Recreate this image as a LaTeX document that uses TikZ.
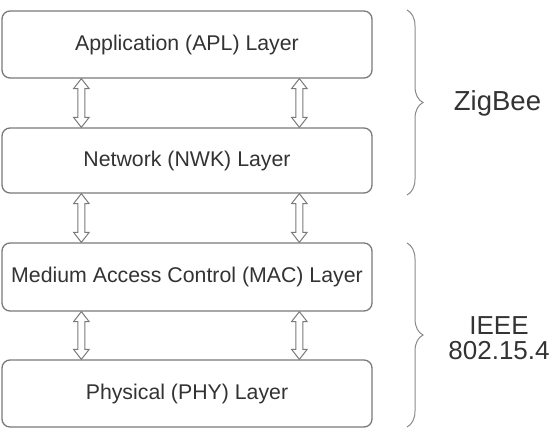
\documentclass[tikz,border=0pt]{standalone}
\usepackage{fontspec}
\setmainfont{Liberation Sans}
\usetikzlibrary{calc,decorations.pathreplacing}
\definecolor{boxline}{HTML}{7A7A7A}
\definecolor{txt}{HTML}{333333}
\definecolor{bracecol}{HTML}{8A8A8A}
\newcommand{\hollowarrow}[3]{%
  \path let \p1=($(#1.south west)+(#3,0)$), \p2=($(#2.north west)+(#3,0)$) in
    [draw=boxline, line width=1pt, fill=white, line join=miter]
    (\x1,\y1) -- (\x1+7.8pt,\y1-10pt) -- (\x1+3.6pt,\y1-10pt) -- (\x1+3.6pt,\y2+10pt)
    -- (\x1+7.8pt,\y2+10pt) -- (\x1,\y2) -- (\x1-7.8pt,\y2+10pt) -- (\x1-3.6pt,\y2+10pt)
    -- (\x1-3.6pt,\y1-10pt) -- (\x1-7.8pt,\y1-10pt) -- cycle;}
\begin{document}
\begin{tikzpicture}[x=1pt,y=1pt,
  layerbox/.style={draw=boxline, line width=1.3pt, rounded corners=8pt, fill=white,
    text=txt, minimum width=370pt, inner sep=0pt, font=\fontsize{21.3}{24}\selectfont},
  bracestyle/.style={draw=bracecol, line width=1pt, decorate,
    decoration={brace, amplitude=16pt}},
  grouplabel/.style={text=txt, align=center, font=\fontsize{26}{25.5}\selectfont, inner sep=0pt}]
\useasboundingbox (0,0) rectangle (553,437);
\node[layerbox, minimum height=67pt] (apl) at (187,392.5) {Application (APL) Layer};
\node[layerbox, minimum height=65pt] (nwk) at (187,276.5) {Network (NWK) Layer};
\node[layerbox, minimum height=68pt] (mac) at (187,160) {Medium Access Control (MAC) Layer};
\node[layerbox, minimum height=67pt] (phy) at (187,43.5) {Physical (PHY) Layer};
\hollowarrow{apl}{nwk}{80pt}
\hollowarrow{apl}{nwk}{298pt}
\hollowarrow{nwk}{mac}{80pt}
\hollowarrow{nwk}{mac}{298pt}
\hollowarrow{mac}{phy}{80pt}
\hollowarrow{mac}{phy}{298pt}
\coordinate (zt) at (407,427);
\coordinate (zb) at (407,242);
\coordinate (it) at (407,194);
\coordinate (ib) at (407,10);
\draw[bracestyle] (zt) -- (zb);
\draw[bracestyle] (it) -- (ib);
\node[grouplabel, font=\fontsize{27.5}{27}\selectfont] (zigbee) at (497.5,334) {ZigBee};
\node[grouplabel] (ieee) at (499,99) {IEEE\\802.15.4};
\end{tikzpicture}
\end{document}
